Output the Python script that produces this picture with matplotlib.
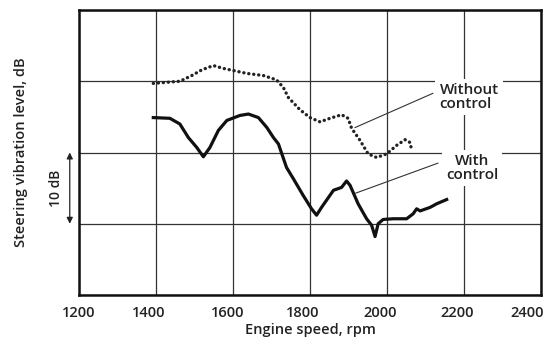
import matplotlib
matplotlib.use("Agg")
import matplotlib.pyplot as plt
from matplotlib.transforms import ScaledTranslation

plt.rcParams['font.family'] = ['Open Sans', 'DejaVu Sans']

# engine speed (rpm) and steering vibration level (dB, arbitrary origin)
rpm_without = [1393, 1462, 1493, 1519, 1549, 1575, 1601, 1636, 1679, 1713, 1731, 1744,
               1774, 1800, 1826, 1852, 1882, 1899, 1908, 1930, 1951, 1973, 1999, 2025,
               2047, 2060, 2064]
db_without = [29.7, 30.0, 30.8, 31.6, 32.2, 31.8, 31.5, 31.1, 30.8, 30.2, 29.1, 27.7,
              26.0, 24.9, 24.3, 24.8, 25.3, 24.8, 23.4, 21.7, 19.8, 19.3, 19.8, 21.0,
              21.8, 21.4, 20.3]

rpm_with = [1393, 1436, 1462, 1484, 1506, 1523, 1540, 1562, 1584, 1618, 1640, 1666,
            1688, 1705, 1718, 1739, 1757, 1782, 1804, 1817, 1830, 1861, 1882, 1895,
            1904, 1925, 1947, 1960, 1969, 1977, 1990, 2016, 2051, 2068, 2077, 2086,
            2112, 2129, 2155]
db_with = [24.9, 24.8, 24.0, 22.1, 20.7, 19.4, 20.7, 23.1, 24.5, 25.2, 25.4, 24.9,
           23.5, 22.1, 21.2, 17.9, 16.3, 14.0, 12.1, 11.2, 12.3, 14.7, 15.1, 16.0,
           15.4, 12.8, 10.7, 9.8, 8.2, 10.0, 10.6, 10.7, 10.7, 11.4, 12.1, 11.8,
           12.3, 12.8, 13.4]

x_ticks = [1200, 1400, 1600, 1800, 2000, 2200, 2400]
y_grid = [0, 10, 20, 30, 40]

fig = plt.figure(figsize=(5.5, 3.38), dpi=100)
ax = fig.add_axes([79 / 550, 43 / 338, 462 / 550, 285 / 338])

ax.set_xlim(1200, 2400)
ax.set_ylim(0, 40)
ax.set_xticks(x_ticks)
ax.set_yticks(y_grid)
ax.set_yticklabels([])
ax.tick_params(axis='both', length=0)
ax.tick_params(axis='x', pad=8, labelsize=10.5, labelcolor='#222222')
# printed labels sit a little left of their gridlines
shifts = [0, -7, -5, -7, -7, -7, -14]
for lab, dx in zip(ax.get_xticklabels(), shifts):
    lab.set_fontweight('semibold')
    lab.set_transform(lab.get_transform() + ScaledTranslation(dx / 100, 0, fig.dpi_scale_trans))
ax.grid(True, color='#333333', linewidth=0.9)
ax.set_axisbelow(True)
for s in ax.spines.values():
    s.set_linewidth(1.8)
    s.set_color('#111111')

ax.plot(rpm_without, db_without, color='#222222', linewidth=2.4,
        linestyle=(0, (0.05, 1.45)), dash_capstyle='round', zorder=3)
ax.plot(rpm_with, db_with, color='#111111', linewidth=2.3,
        solid_joinstyle='round', zorder=3)

# callouts
ax.plot([2119, 1917], [28.3, 23.5], color='#333333', linewidth=0.8, zorder=2)
ax.plot([2132, 1919], [18.5, 14.3], color='#333333', linewidth=0.8, zorder=2)
box = dict(facecolor='white', edgecolor='none', pad=3)
ax.text(2213, 27.8, 'Without\ncontrol', ha='center', va='center', multialignment='left',
        fontsize=11, fontweight='semibold', color='#222222', linespacing=1.0, bbox=box, zorder=4)
ax.text(2221, 17.8, 'With\ncontrol', ha='center', va='center', multialignment='center',
        fontsize=11, fontweight='semibold', color='#222222', linespacing=1.0, bbox=box, zorder=4)

ax.set_xlabel('Engine speed, rpm', fontsize=10.5, fontweight='semibold', color='#222222', labelpad=2)
ax.set_ylabel('Steering vibration level, dB', fontsize=10.5, fontweight='semibold',
              color='#222222', labelpad=33)

# 10 dB scale arrow
ax.annotate('', xy=(1176, 10), xytext=(1176, 20), xycoords='data',
            arrowprops=dict(arrowstyle='<|-|>', color='#222222', lw=0.9,
                            mutation_scale=9, shrinkA=0, shrinkB=0),
            annotation_clip=False)
ax.text(1139, 15, '10 dB', rotation=90, ha='center', va='center', fontsize=10,
        fontweight='semibold', color='#222222', clip_on=False)

fig.savefig('out.png', dpi=100)
